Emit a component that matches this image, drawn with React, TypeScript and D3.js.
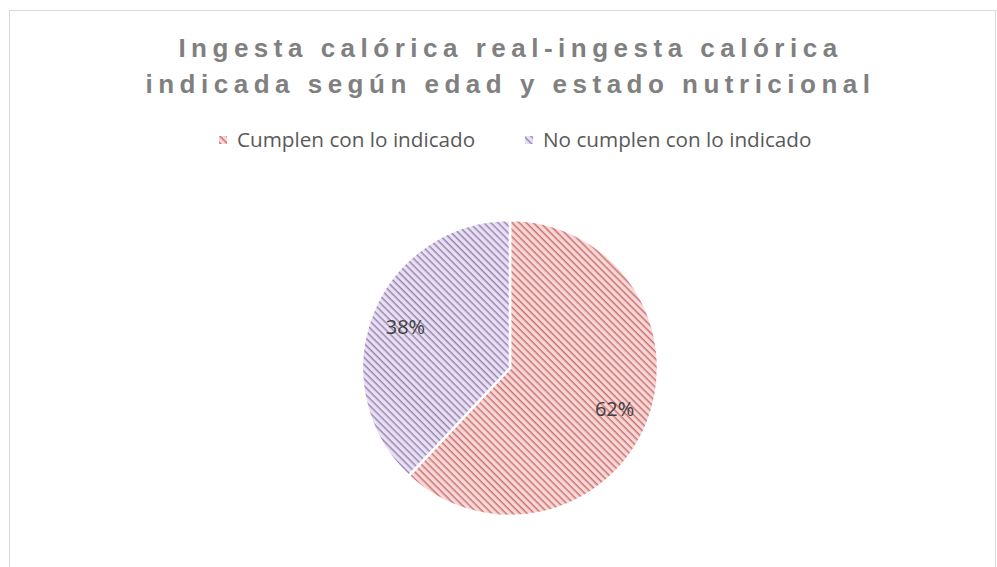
import React, { useRef, useEffect } from "react";
import * as d3 from "d3";

const titleLines = ["Ingesta calórica real-ingesta calórica", "indicada según edad y estado nutricional"];
const categories = ["Cumplen con lo indicado", "No cumplen con lo indicado"];
const values = [62, 38];
const colors = ["#c0504d", "#8064a2"];
const tints = ["#f6d8d8", "#e8e1f1"];

const App = () => {
  const svgRef = useRef<SVGSVGElement | null>(null);

  useEffect(() => {
    const width = 997;
    const svg = d3.select(svgRef.current);
    svg.selectAll("*").remove();

    // hatch patterns (downward diagonal, like Excel)
    const defs = svg.append("defs");
    colors.forEach((c, i) => {
      const p = defs
        .append("pattern")
        .attr("id", `hatch${i}`)
        .attr("patternUnits", "userSpaceOnUse")
        .attr("width", 5)
        .attr("height", 5)
        .attr("patternTransform", "rotate(45)");
      p.append("rect").attr("width", 5).attr("height", 5).attr("fill", tints[i]);
      p.append("rect").attr("width", 5).attr("height", 1.5).attr("fill", c).attr("opacity", 0.75);
    });

    // chart area border
    svg.append("rect")
      .attr("x", 9.5)
      .attr("y", 10.5)
      .attr("width", 986)
      .attr("height", 570)
      .attr("fill", "white")
      .attr("stroke", "#d9d9d9")
      .attr("stroke-width", 1);

    // title
    svg.append("text")
      .attr("y", 57)
      .attr("text-anchor", "middle")
      .style("font-family", "'Liberation Sans', Arial, sans-serif")
      .style("font-size", "26px")
      .style("font-weight", "bold")
      .style("letter-spacing", "5.5px")
      .attr("fill", "#808080")
      .selectAll("tspan")
      .data(titleLines)
      .enter()
      .append("tspan")
      .attr("x", width / 2 + 12)
      .attr("dy", (d, i) => (i === 0 ? 0 : 36))
      .text(d => d);

    // legend
    const legendX = [219, 525];
    const lg = svg.append("g");
    categories.forEach((cat, i) => {
      lg.append("rect")
        .attr("x", legendX[i])
        .attr("y", 136)
        .attr("width", 8)
        .attr("height", 8)
        .attr("fill", `url(#hatch${i})`);
      lg.append("text")
        .attr("x", legendX[i] + 18)
        .attr("y", 147)
        .style("font-family", "'Open Sans', sans-serif")
        .style("font-size", "20.7px")
        .attr("fill", "#595959")
        .text(cat);
    });

    // pie
    const cx = 510;
    const cy = 368;
    const r = 148;
    const pie = d3.pie<number>().sort(null).value(d => d);
    const arcs = pie(values);
    const arc = d3.arc<d3.PieArcDatum<number>>().innerRadius(0).outerRadius(r);
    const labelArc = d3.arc<d3.PieArcDatum<number>>().innerRadius(r * 0.76).outerRadius(r * 0.76);

    const g = svg.append("g").attr("transform", `translate(${cx},${cy})`);
    g.selectAll("path")
      .data(arcs)
      .enter()
      .append("path")
      .attr("d", arc)
      .attr("fill", (d, i) => `url(#hatch${i})`)
      .attr("stroke", "white")
      .attr("stroke-width", 2.5);

    const total = d3.sum(values);
    g.selectAll("text.lbl")
      .data(arcs)
      .enter()
      .append("text")
      .attr("class", "lbl")
      .attr("transform", d => `translate(${labelArc.centroid(d)})`)
      .attr("text-anchor", "middle")
      .attr("dy", "0.35em")
      .style("font-family", "'Open Sans', sans-serif")
      .style("font-size", "20px")
      .attr("fill", "#404040")
      .text(d => `${Math.round((d.value / total) * 100)}%`);
  }, []);

  return (
    <svg
      ref={svgRef}
      width={997}
      height={567}
      style={{ position: "absolute", left: 0, top: 0, display: "block" }}
    />
  );
};

export default App;
